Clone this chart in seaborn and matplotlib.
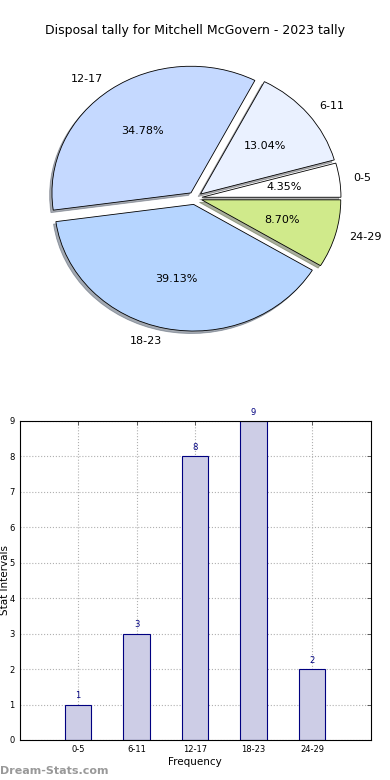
import matplotlib
matplotlib.use("Agg")
import matplotlib.pyplot as plt
import seaborn as sns
import pandas as pd

categories = ["0-5", "6-11", "12-17", "18-23", "24-29"]
counts = [1, 3, 8, 9, 2]
pie_colors = ["#ffffff", "#eaf1ff", "#c5d9ff", "#b6d5ff", "#d0ea8b"]
title = "Disposal tally for Mitchell McGovern - 2023 tally"

sns.set_style("white")
plt.rcParams["font.family"] = ["DejaVu Sans"]
plt.rcParams["text.color"] = "black"
plt.rcParams["axes.labelcolor"] = "black"
plt.rcParams["xtick.color"] = "black"
plt.rcParams["ytick.color"] = "black"

fig = plt.figure(figsize=(3.9, 7.8), dpi=100)

# Pie chart
ax1 = fig.add_axes([0.05, 0.541, 0.90, 0.41])
wedges, texts, autotexts = ax1.pie(
    counts, labels=categories, colors=pie_colors, autopct="%1.2f%%",
    explode=[0.05] * len(counts), radius=0.99,
    shadow={"ox": -0.012, "oy": -0.014, "shade": 0.6}, startangle=0,
    wedgeprops=dict(edgecolor="black", linewidth=0.6),
    textprops=dict(fontsize=8, color="black"))
ax1.set_aspect("auto")
ax1.set_xlim(-1.25, 1.25)
ax1.set_ylim(-1.25, 1.25)
fig.text(0.5, 0.961, title, ha="center", va="center", fontsize=9)

# Bar chart
ax2 = fig.add_axes([0.05, 0.0513, 0.90, 0.409])
df = pd.DataFrame({"cat": categories, "val": counts})
sns.barplot(data=df, x="cat", y="val", color="#cdcde6", edgecolor="navy",
            linewidth=0.8, width=0.46, saturation=1, ax=ax2, zorder=2)
ax2.set_xlim(-1, 5)
ax2.set_ylim(0, 9)
ax2.set_yticks(range(0, 10))
ax2.grid(True, linestyle=":", color="#b0b0b0", linewidth=0.8, zorder=0)
ax2.set_axisbelow(True)
ax2.tick_params(direction="in", top=True, right=True, labelsize=6,
                length=3, width=0.6, color="#444444")
for s in ax2.spines.values():
    s.set_visible(True)
    s.set_color("black")
    s.set_linewidth(0.8)
for i, v in enumerate(counts):
    ax2.text(i, v + 0.12, str(v), ha="center", va="bottom", fontsize=6,
             color="navy")
ax2.set_xlabel("Frequency", fontsize=7.5, labelpad=2)
ax2.set_ylabel("Stat Intervals", fontsize=7.5)
ax2.yaxis.set_label_coords(-0.026, 0.5)

fig.text(0.0, 0.012, "Dream-Stats.com", fontsize=8, color="#999999",
         fontweight="bold", ha="left", va="center")

fig.savefig("out.png", dpi=100)
